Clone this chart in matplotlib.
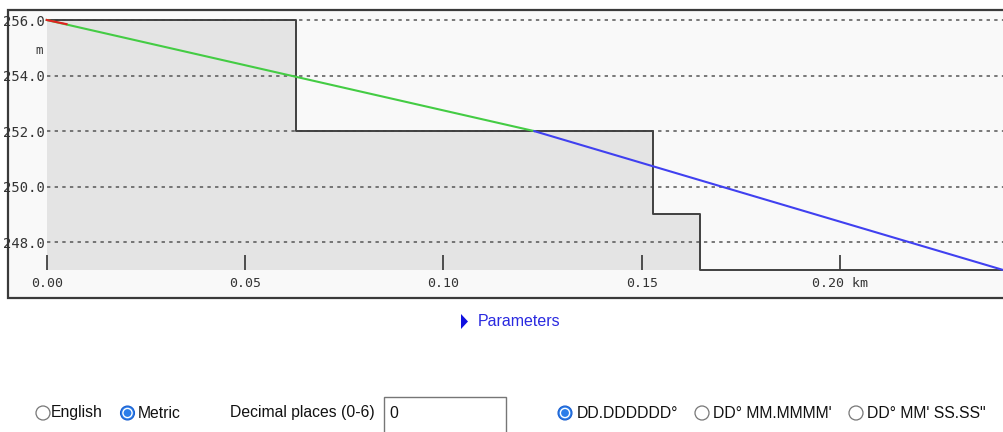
import matplotlib
matplotlib.use("Agg")
import matplotlib.pyplot as plt
from matplotlib.patches import Rectangle, Circle, Polygon

# ---- data ----
dist_ticks = [0.00, 0.05, 0.10, 0.15, 0.20]
dist_labels = ["0.00", "0.05", "0.10", "0.15", "0.20 km"]
elev_ticks = [248, 250, 252, 254, 256]
elev_labels = ["248.0", "250.0", "252.0", "254.0", "256.0"]

ground_x = [0.0, 0.0628, 0.1528, 0.1647, 0.2413]
ground_y = [256.0, 252.0, 249.0, 247.0, 247.0]

los_red_x = [0.0, 0.005]
los_red_y = [256.0, 255.85]
los_green_x = [0.0, 0.1229]
los_green_y = [256.0, 252.0]
los_blue_x = [0.1229, 0.2411]
los_blue_y = [252.0, 247.0]

x_min, x_max = 0.0, 0.2413
y_min, y_max = 247.0, 256.0

W, H = 1004, 432
fig = plt.figure(figsize=(W / 100, H / 100), dpi=100)
fig.patch.set_facecolor("white")

# overlay in pixel coordinates
ov = fig.add_axes([0, 0, 1, 1], zorder=0)
ov.set_xlim(0, W)
ov.set_ylim(H, 0)
ov.axis("off")

ov.add_patch(Rectangle((8, 10), 1010, 288, facecolor="#f9f9f9",
                       edgecolor="#3a3a3a", lw=1.6))

# main chart axes
left_px, right_px, top_px, bot_px = 46.7, 1004, 20, 270
ax = fig.add_axes([left_px / W, (H - bot_px) / H, (right_px - left_px) / W,
                   (bot_px - top_px) / H], zorder=1)
ax.patch.set_alpha(0)
ax.set_xlim(x_min, x_max)
ax.set_ylim(y_min, y_max)
for s in ax.spines.values():
    s.set_visible(False)

ax.fill_between(ground_x, ground_y, y_min, step="post", color="#e4e4e4",
                lw=0, zorder=1)
for yv in elev_ticks:
    ax.axhline(yv, color="#555555", lw=1.1, ls=(0, (2.2, 2.8)), zorder=2,
               clip_on=False)
ax.step(ground_x, ground_y, where="post", color="#404040", lw=1.4, zorder=3,
        clip_on=False)

ax.plot(los_green_x, los_green_y, color="#44cc44", lw=1.5, zorder=4,
        clip_on=False)
ax.plot(los_blue_x, los_blue_y, color="#4040f0", lw=1.5, zorder=4,
        clip_on=False)
ax.plot(los_red_x, los_red_y, color="#e02020", lw=1.5, zorder=5,
        clip_on=False)

mono = "DejaVu Sans Mono"
ax.set_xticks(dist_ticks)
ax.set_xticklabels(dist_labels, fontfamily=mono, fontsize=9.5, color="#333333")
ax.tick_params(axis="x", direction="in", length=11, width=1.2,
               color="#333333", pad=5)
ax.set_yticks(elev_ticks)
ax.set_yticklabels(elev_labels, fontfamily=mono, fontsize=10, color="#333333")
ax.tick_params(axis="y", length=0, pad=1.2)

ov.text(39, 50, "m", fontfamily=mono, fontsize=9, color="#333333",
        ha="center", va="center")

# Parameters link
ov.add_patch(Polygon([(461, 314), (461, 329), (468, 321.5)], closed=True,
                     facecolor="#1010e0", edgecolor="none"))
ov.text(478, 322, "Parameters", fontfamily="Liberation Sans", fontsize=11.5,
        color="#2a2ae0", ha="left", va="center")

# bottom control row
ry = 413
sans = "Liberation Sans"


def radio(x, checked):
    if checked:
        ov.add_patch(Circle((x, ry), 7, facecolor="#2b7de9",
                            edgecolor="#1a5fd0", lw=0.8))
        ov.add_patch(Circle((x, ry), 4.6, facecolor="none",
                            edgecolor="white", lw=1.0))
    else:
        ov.add_patch(Circle((x, ry), 7, facecolor="white",
                            edgecolor="#767676", lw=0.9))


txt_kw = dict(fontfamily=sans, fontsize=11.3, color="#111111",
              ha="left", va="center")
radio(43, False)
ov.text(51, ry, "English", **txt_kw)
radio(127.5, True)
ov.text(138, ry, "Metric", **txt_kw)
ov.text(230, ry, "Decimal places (0-6)", **txt_kw)
ov.add_patch(Rectangle((384, 397), 122, 40, facecolor="white",
                       edgecolor="#767676", lw=1.0))
ov.text(389, ry, "0", **txt_kw)
radio(565, True)
ov.text(577, ry, "DD.DDDDDD°", **txt_kw)
radio(702, False)
ov.text(713, ry, "DD° MM.MMMM'", **txt_kw)
radio(856, False)
ov.text(867, ry, "DD° MM' SS.SS\"", **txt_kw)

fig.savefig("out.png", dpi=100)
